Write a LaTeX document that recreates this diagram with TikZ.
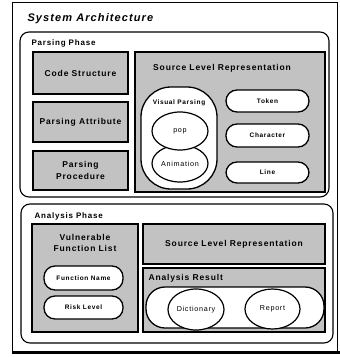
\documentclass[tikz,border=0pt]{standalone}
\usepackage{fontspec}
\setmainfont{Liberation Sans}
\newfontfamily\spaced[LetterSpace=10]{Liberation Sans}
\usetikzlibrary{shapes.geometric}

\begin{document}
\begin{tikzpicture}[x=1pt,y=-1pt,font=\spaced\bfseries,
  wh/.style 2 args={minimum width=#1,minimum height=#2,inner sep=0pt},
  phasebox/.style={draw,line width=1.1pt,rounded corners=9pt},
  shaded/.style={draw,line width=1.6pt,fill=black!24,align=center,font=\spaced\bfseries\fontsize{8.5}{11.5}\selectfont},
  boxtitle/.style={align=center,font=\spaced\bfseries\fontsize{8.5}{10.5}\selectfont},
  pill/.style={draw,line width=1.3pt,fill=white,rounded corners=11pt,font=\spaced\bfseries\fontsize{6.5}{8}\selectfont},
  oval/.style={draw,line width=1.2pt,fill=white,ellipse,font=\spaced\fontsize{7.2}{8}\selectfont},
  heading/.style={anchor=west,font=\spaced\bfseries\fontsize{8}{10}\selectfont}]
\useasboundingbox (0,0) rectangle (340,357);
% outer frame
\node[draw,line width=0.6pt,wh={325}{350}] (frame) at (174.5,177) {};
\draw[line width=2.4pt] (frame.south west) -- ++(328,0);
\node[anchor=west,font=\spaced\bfseries\itshape\fontsize{11}{13}\selectfont] (title) at (24,19) {System Architecture};

% parsing phase
\node[phasebox,wh={309}{165}] (parsing) at (174.5,114.5) {};
\node[heading] (parsinglbl) at (28,43) {Parsing Phase};
\node[shaded,wh={95}{42}] (codestr) at (80.5,73) {Code Structure};
\node[shaded,wh={95}{40}] (attrib) at (80.5,122) {Parsing Attribute};
\node[shaded,wh={95}{39}] (proc) at (80.5,170.5) {Parsing\\Procedure};
\node[shaded,wh={190}{140}] (srcparse) at (230,122) {};
\node[boxtitle] (srctitle) at (222,68) {Source Level Representation};
\node[draw,line width=1.3pt,fill=white,rounded corners=30pt,wh={76}{102}] (visual) at (179,138) {};
\node[font=\spaced\bfseries\fontsize{6.5}{8}\selectfont] (visuallbl) at (179,103) {Visual Parsing};
\node[oval,wh={56}{37}] (anim) at (180,163.5) {Animation};
\node[oval,wh={56}{38}] (pop) at (180,131) {pop};
\node[pill,wh={83}{22}] (token) at (267.5,101) {Token};
\node[pill,wh={83}{23}] (char) at (267.5,135.5) {Character};
\node[pill,wh={83}{21}] (line) at (267.5,172.5) {Line};

% analysis phase
\node[phasebox,wh={312}{139}] (analysis) at (177,273.5) {};
\node[heading] (analysislbl) at (31,216) {Analysis Phase};
\node[shaded,wh={106}{108}] (vfl) at (85,278) {};
\node[boxtitle] (vfltitle) at (85,243) {Vulnerable\\Function List};
\node[pill,wh={79}{24}] (fname) at (83.5,278) {Function Name};
\node[pill,wh={79}{23}] (risk) at (83.5,307.5) {Risk Level};
\node[shaded,wh={182}{40}] (srcanalysis) at (234,244) {Source Level Representation};
\node[shaded,wh={182}{64}] (result) at (234,300) {};
\node[boxtitle,anchor=west] (resulttitle) at (145,278) {Analysis Result};
\node[draw,line width=1.3pt,fill=white,rounded corners=19pt,wh={178}{41}] (resultset) at (235,307.5) {};
\node[oval,wh={56}{41}] (dict) at (196,309.5) {Dictionary};
\node[oval,wh={55}{40}] (report) at (272.5,309) {Report};
\end{tikzpicture}
\end{document}
